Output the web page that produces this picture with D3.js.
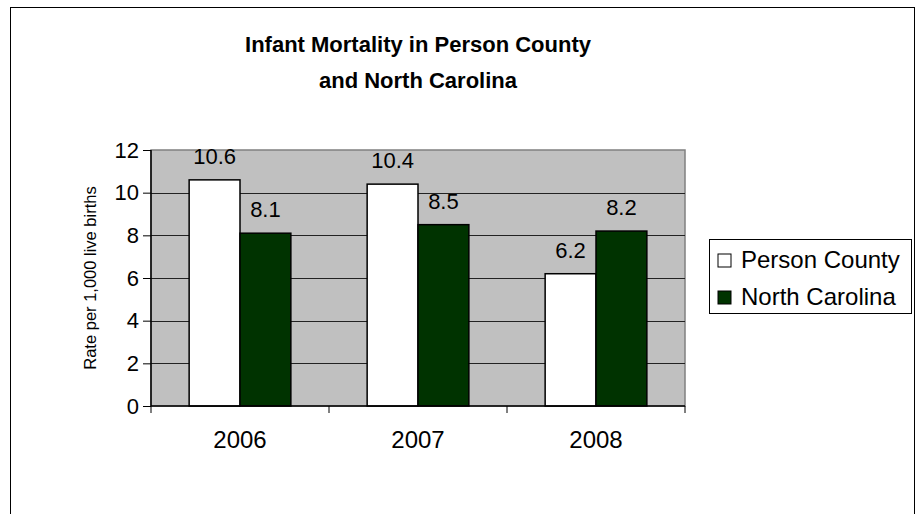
<!DOCTYPE html>
<html>
<head>
<meta charset="utf-8">
<script src="https://cdn.jsdelivr.net/npm/d3@7"></script>
<style>
  body { margin: 0; background: #fff; }
  text { font-family: "Liberation Sans", Arial, sans-serif; fill: #000; }
</style>
</head>
<body>
<script>
let years = ["2006", "2007", "2008"];
let seriesNames = ["Person County", "North Carolina"];
let personCounty = [10.6, 10.4, 6.2];
let northCarolina = [8.1, 8.5, 8.2];
let yTicks = [0, 2, 4, 6, 8, 10, 12];
let titleLines = ["Infant Mortality in Person County", "and North Carolina"];
let yTitle = "Rate per 1,000 live births";

let colors = ["#ffffff", "#003300"];

let svgWidth = 921;
let svgHeight = 514;

let svg = d3.select("body")
    .append("svg")
    .attr("width", svgWidth)
    .attr("height", svgHeight)

// outer chart border
svg.append("rect")
    .attr("x", 10.5)
    .attr("y", 7.5)
    .attr("width", 904)
    .attr("height", 520)
    .attr("fill", "#fff")
    .attr("stroke", "#000")
    .attr("stroke-width", 1)

let plot = { left: 151, top: 150, right: 685, bottom: 406 };
let chartWidth = plot.right - plot.left;
let chartHeight = plot.bottom - plot.top;

let chartGroup = svg.append("g")
    .attr("transform", `translate(${plot.left},${plot.top})`)

let xScale = d3.scaleBand()
    .domain(years)
    .range([0, chartWidth])

let yScale = d3.scaleLinear()
    .domain([0, 12])
    .range([chartHeight, 0]);

// gap width 150% like excel
let barWidth = xScale.bandwidth() / 3.5;
let xInner = d3.scaleBand()
    .domain(seriesNames)
    .range([barWidth * 0.75, barWidth * 2.75])

// plot area background
chartGroup.append("rect")
    .attr("width", chartWidth)
    .attr("height", chartHeight)
    .attr("fill", "#c0c0c0")
    .attr("stroke", "#808080")
    .attr("stroke-width", 1.5)

// gridlines
chartGroup.append("g")
    .selectAll("line")
    .data(yTicks.filter(t => t > 0 && t < 12))
    .enter()
    .append("line")
    .attr("x1", 0)
    .attr("x2", chartWidth)
    .attr("y1", d => Math.round(yScale(d)) + 0.5)
    .attr("y2", d => Math.round(yScale(d)) + 0.5)
    .attr("stroke", "#222")
    .attr("stroke-width", 1)

let rows = years.map((y, i) => ({ year: y, values: [personCounty[i], northCarolina[i]] }));

let groups = chartGroup.selectAll(".year")
    .data(rows)
    .enter()
    .append("g")
    .attr("class", "year")
    .attr("transform", d => `translate(${xScale(d.year)},0)`)

groups.selectAll("rect")
    .data(d => d.values.map((v, j) => ({ name: seriesNames[j], value: v, j: j })))
    .enter()
    .append("rect")
    .attr("x", d => xInner(d.name))
    .attr("y", d => yScale(d.value))
    .attr("width", xInner.bandwidth())
    .attr("height", d => chartHeight - yScale(d.value))
    .attr("fill", d => colors[d.j])
    .attr("stroke", "#000")
    .attr("stroke-width", 1.5)

groups.selectAll(".lbl")
    .data(d => d.values.map((v, j) => ({ name: seriesNames[j], value: v })))
    .enter()
    .append("text")
    .attr("class", "lbl")
    .attr("x", d => xInner(d.name) + xInner.bandwidth() / 2)
    .attr("y", d => yScale(d.value) - 16)
    .attr("text-anchor", "middle")
    .attr("font-size", "22px")
    .text(d => d.value.toFixed(1))

// y axis
let leftAxis = d3.axisLeft(yScale)
    .tickValues(yTicks)
    .tickSize(8)
    .tickPadding(4)
    .tickFormat(d3.format("d"));

let yAxisG = chartGroup.append("g")
    .call(leftAxis)
yAxisG.select(".domain").attr("stroke", "#000").attr("stroke-width", 1.5).attr("d", `M0,0V${chartHeight}`)
yAxisG.selectAll(".tick text").attr("font-size", "22px").attr("font-family", "Liberation Sans, Arial, sans-serif").attr("fill", "#000")

// x axis: ticks on category boundaries
chartGroup.append("line")
    .attr("x1", 0)
    .attr("x2", chartWidth)
    .attr("y1", chartHeight)
    .attr("y2", chartHeight)
    .attr("stroke", "#000")
    .attr("stroke-width", 1.5)

chartGroup.append("g")
    .selectAll("line")
    .data(years.map(y => xScale(y)).concat([chartWidth]))
    .enter()
    .append("line")
    .attr("x1", d => d)
    .attr("x2", d => d)
    .attr("y1", chartHeight)
    .attr("y2", chartHeight + 7)
    .attr("stroke", "#000")
    .attr("stroke-width", 1)

chartGroup.append("g")
    .selectAll("text")
    .data(years)
    .enter()
    .append("text")
    .attr("x", d => xScale(d) + xScale.bandwidth() / 2)
    .attr("y", chartHeight + 42)
    .attr("text-anchor", "middle")
    .attr("font-size", "24px")
    .text(d => d)

// y axis title
svg.append("text")
    .attr("transform", `translate(96,${plot.top + chartHeight / 2}) rotate(-90)`)
    .attr("text-anchor", "middle")
    .attr("font-size", "16.5px")
    .text(yTitle)

// title
svg.append("g")
    .selectAll("text")
    .data(titleLines)
    .enter()
    .append("text")
    .attr("x", plot.left + chartWidth / 2)
    .attr("y", (d, i) => 52 + i * 36)
    .attr("text-anchor", "middle")
    .attr("font-size", "22px")
    .attr("font-weight", "bold")
    .text(d => d)

// legend
let legend = svg.append("g")
    .attr("transform", "translate(709,239)")

legend.append("rect")
    .attr("x", 0.5)
    .attr("y", 0.5)
    .attr("width", 202)
    .attr("height", 74)
    .attr("fill", "#fff")
    .attr("stroke", "#000")
    .attr("stroke-width", 1)

let items = legend.selectAll(".item")
    .data(seriesNames)
    .enter()
    .append("g")
    .attr("class", "item")
    .attr("transform", (d, i) => `translate(0,${21 + i * 37})`)

items.append("rect")
    .attr("x", 9)
    .attr("y", -6)
    .attr("width", 13)
    .attr("height", 13)
    .attr("fill", (d, i) => colors[i])
    .attr("stroke", "#000")
    .attr("stroke-width", 1)

items.append("text")
    .attr("x", 32)
    .attr("y", 8)
    .attr("font-size", "24px")
    .text(d => d)
</script>
</body>
</html>
